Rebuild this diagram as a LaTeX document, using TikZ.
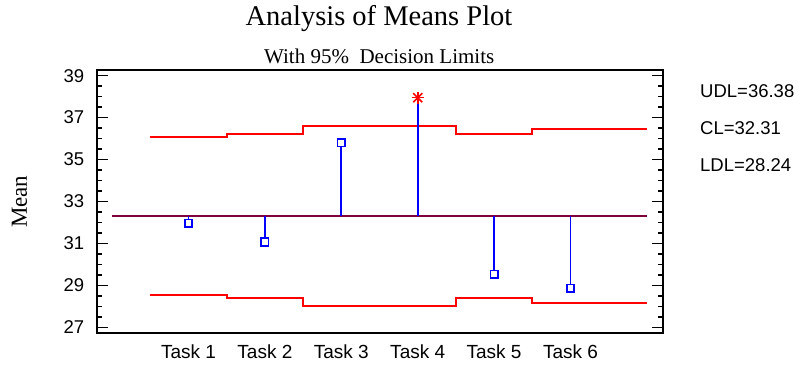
\documentclass[tikz,border=0pt]{standalone}
\usepackage{fontspec}
\setmainfont{Liberation Serif}
\setsansfont{Liberation Sans}
\definecolor{clcol}{RGB}{128,0,64}
\definecolor{limred}{RGB}{255,0,0}
\definecolor{meanblue}{RGB}{0,0,255}
\begin{document}
\begin{tikzpicture}[x=1pt,y=-1pt,
  axisline/.style={line width=2pt,black},
  tickline/.style={line width=1.6pt,black},
  ticklab/.style={font=\sffamily\fontsize{18.5}{20}\selectfont,inner sep=0pt},
  tasklab/.style={font=\sffamily\fontsize{19}{21}\selectfont,inner sep=0pt},
  limline/.style={line width=1.9pt,limred},
  centerline/.style={line width=2pt,clcol},
  stemline/.style={line width=1.9pt,meanblue},
  meanmark/.style={draw=meanblue,line width=1.6pt,rectangle,minimum size=7.5pt,inner sep=0pt,fill=white},
  starline/.style={line width=1.6pt,limred}]
\useasboundingbox (0,0) rectangle (801,365);
\node[font=\fontsize{28.5}{30}\selectfont,anchor=base,inner sep=0pt] (title) at (379,25.7) {Analysis of Means Plot};
\node[font=\fontsize{21}{24}\selectfont,anchor=base,inner sep=0pt] (subtitle) at (379.2,63.3) {With 95\%\ \ Decision Limits};
\node[font=\fontsize{23}{25}\selectfont,rotate=90,anchor=base,inner sep=0pt] (ylab) at (27,201.7) {Mean};
\node[ticklab,anchor=base west] (udl) at (700,97.3) {UDL=36.38};
\node[ticklab,anchor=base west] (cl) at (700,134.3) {CL=32.31};
\node[ticklab,anchor=base west] (ldl) at (700,171.7) {LDL=28.24};
\begin{scope}[x=76.4pt,y=20.97pt,shift={(112.1pt,-893.5pt)}]
  % axes box
  \coordinate (bl) at (-0.198,26.73);
  \coordinate (tr) at (7.207,39.27);
  % ticks
  \foreach \v in {27.5,28,...,38.5} {
    \draw[tickline] (-0.198,\v) -- ++(5pt,0);
    \draw[tickline] (7.207,\v) -- ++(-5pt,0);
  }
  \foreach \v in {27,29,...,39} {
    \draw[tickline] (-0.198,\v) -- ++(11pt,0);
    \draw[tickline] (7.207,\v) -- ++(-11pt,0);
    \node[ticklab,anchor=east] (yl\v) at ([xshift=-12.5pt]-0.198,\v) {\v};
  }
  \draw[axisline] (bl) rectangle (tr);
  % task labels
  \foreach \t in {1,...,6} {
    \node[tasklab,anchor=base] (xl\t) at ([yshift=-25.3pt]\t,26.73) {Task \t};
  }
  % decision limits
  \draw[limline] (0.5,36.07) -- (1.5,36.07) -- (1.5,36.23) -- (2.5,36.23) -- (2.5,36.60)
     -- (4.5,36.60) -- (4.5,36.24) -- (5.5,36.24) -- (5.5,36.45) -- (7,36.45);
  \draw[limline] (0.5,28.55) -- (1.5,28.55) -- (1.5,28.39) -- (2.5,28.39) -- (2.5,28.02)
     -- (4.5,28.02) -- (4.5,28.38) -- (5.5,28.38) -- (5.5,28.17) -- (7,28.17);
  % center line
  \coordinate (cstart) at (0,32.31);
  \coordinate (cend) at (7,32.31);
  \draw[centerline] (cstart) -- (cend);
  % means
  \foreach \t/\m in {1/31.96,2/31.07,3/35.81,5/29.53,6/28.86} {
    \coordinate (c\t) at (\t,32.31);
    \node[meanmark] (m\t) at (\t,\m) {};
    \draw[stemline] (c\t) -- (m\t);
  }
  \coordinate (c4) at (4,32.31);
  \coordinate (m4) at (4,37.95);
  \draw[stemline] (c4) -- (m4);
  \draw[starline] ([xshift=-6pt]m4) -- ([xshift=6pt]m4);
  \draw[starline] ([yshift=-6pt]m4) -- ([yshift=6pt]m4);
  \draw[starline] ([xshift=-4.5pt,yshift=-4.5pt]m4) -- ([xshift=4.5pt,yshift=4.5pt]m4);
  \draw[starline] ([xshift=-4.5pt,yshift=4.5pt]m4) -- ([xshift=4.5pt,yshift=-4.5pt]m4);
\end{scope}
\end{tikzpicture}
\end{document}
